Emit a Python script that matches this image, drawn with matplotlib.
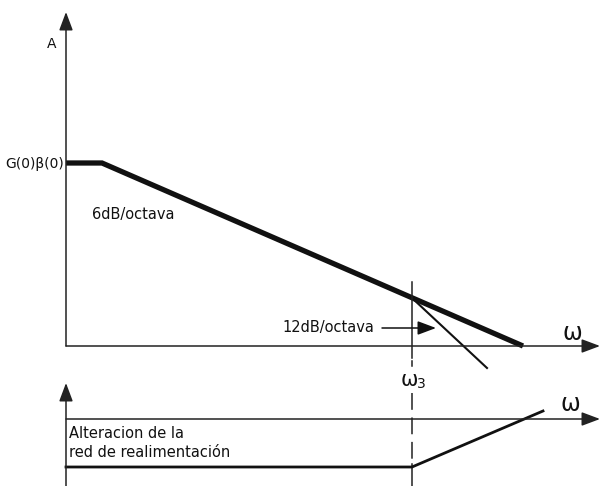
import matplotlib
matplotlib.use('Agg')
import matplotlib.pyplot as plt

# Diagram units: x grows to the right (log frequency), y grows downward (as drawn)
origin_x = 66
w3 = 412

# Top panel: loop gain asymptotes
top_axis_y = 346
gain_w = [66, 102, 523]
gain_a = [163, 163, 346]
slope12_w = [w3, 487]
slope12_a = [298, 368]

# Bottom panel: feedback network alteration
bot_axis_y = 419
net_w = [66, w3, 543]
net_a = [467, 467, 411]

INK = '#111111'
AXIS = '#222222'

fig = plt.figure(figsize=(6.0, 4.86), dpi=100)
ax = fig.add_axes((0, 0, 1, 1))
ax.set_xlim(0, 600)
ax.set_ylim(486, 0)
ax.axis('off')

arrow = dict(arrowstyle='-|>,head_length=0.8,head_width=0.3', color=AXIS, lw=1.1,
             mutation_scale=14, shrinkA=0, shrinkB=0)

# ── Top panel axes ────────────────────────────────────────────
ax.annotate('', xy=(origin_x, 12), xytext=(origin_x, top_axis_y), arrowprops=arrow)
ax.annotate('', xy=(600, top_axis_y), xytext=(origin_x, top_axis_y), arrowprops=arrow)
ax.text(52, 44, 'A', fontsize=10, ha='center', va='center', color=INK)
ax.text(572, 333, 'ω', fontsize=17, ha='center', va='center', color=INK)
ax.text(64, 164, 'G(0)β(0)', fontsize=10, ha='right', va='center', color=INK)

# Gain curves
ax.plot(gain_w, gain_a, color=INK, lw=3.8, solid_capstyle='butt', solid_joinstyle='miter')
ax.plot(slope12_w, slope12_a, color=INK, lw=1.5)
ax.text(92, 214, '6dB/octava', fontsize=10.5, ha='left', va='center', color=INK)
ax.text(282, 327, '12dB/octava', fontsize=10.5, ha='left', va='center', color=INK)
ax.annotate('', xy=(436, 328), xytext=(382, 328),
            arrowprops=dict(arrowstyle='-|>,head_length=0.8,head_width=0.3', color=INK,
                            lw=1.1, mutation_scale=14, shrinkA=0, shrinkB=0))

# ── ω3 marker line ────────────────────────────────────────────
ax.plot([w3, w3], [282, 358], color=AXIS, lw=1.1)
ax.plot([w3, w3], [361, 366], color=AXIS, lw=1.1)
ax.text(w3 - 3, 380, 'ω', fontsize=15, ha='center', va='center', color=INK)
ax.text(w3 + 9, 384, '3', fontsize=10, ha='center', va='center', color=INK)
ax.plot([w3, w3], [393, 464], color=AXIS, lw=1.1, linestyle=(0, (11, 5)))
ax.plot([w3, w3], [464, 486], color=AXIS, lw=1.1)

# ── Bottom panel ──────────────────────────────────────────────
ax.annotate('', xy=(origin_x, 383), xytext=(origin_x, 486), arrowprops=arrow)
ax.annotate('', xy=(600, bot_axis_y), xytext=(origin_x, bot_axis_y), arrowprops=arrow)
ax.text(570, 404, 'ω', fontsize=17, ha='center', va='center', color=INK)
ax.plot(net_w, net_a, color=INK, lw=2.0, solid_joinstyle='miter')
ax.text(69, 433, 'Alteracion de la', fontsize=10.5, ha='left', va='center', color=INK)
ax.text(69, 452, 'red de realimentación', fontsize=10.5, ha='left', va='center', color=INK)

fig.savefig('out.png', dpi=100, facecolor='white')
